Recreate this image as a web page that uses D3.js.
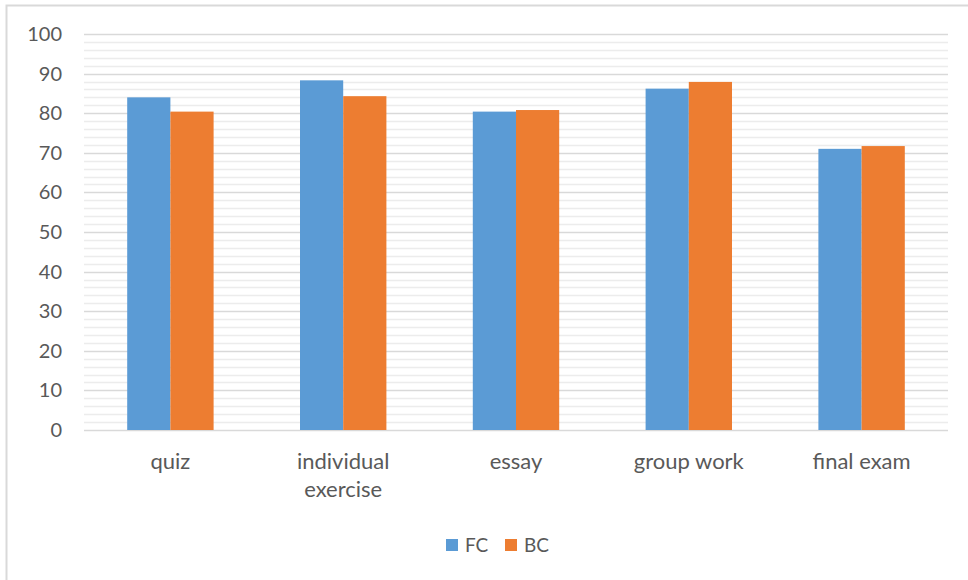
<!DOCTYPE html>
<html>
<head>
<meta charset="utf-8">
<script src="https://cdn.jsdelivr.net/npm/d3@7"></script>
<style>
  html, body { margin: 0; padding: 0; background: #fff; }
  svg text { font-family: Lato, "Open Sans", sans-serif; fill: #595959; }
</style>
</head>
<body>
<svg id="chart" width="968" height="580"></svg>
<script>
const categories = [["quiz"], ["individual", "exercise"], ["essay"], ["group work"], ["final exam"]];
const seriesNames = ["FC", "BC"];
const fcValues = [84.0, 88.3, 80.4, 86.2, 71.0];
const bcValues = [80.4, 84.3, 80.8, 87.9, 71.7];
const yTicks = [0, 10, 20, 30, 40, 50, 60, 70, 80, 90, 100];
const minorTicks = d3.range(0, 101, 2);

const colors = { FC: '#5B9BD5', BC: '#ED7D31' };
const plot = { left: 84, right: 948, top: 34, bottom: 430 };

const svg = d3.select('#chart');

// chart frame
svg.append('rect')
  .attr('x', 6.5).attr('y', 5.5)
  .attr('width', 970).attr('height', 580)
  .attr('fill', 'none')
  .attr('stroke', '#d9d9d9')
  .attr('stroke-width', 2);

const x = d3.scaleBand()
  .domain(categories.map(c => c.join(' ')))
  .range([plot.left, plot.right])
  .paddingInner(0.5).paddingOuter(0.25);

const xSub = d3.scaleBand()
  .domain(seriesNames)
  .range([0, x.bandwidth()]);

const y = d3.scaleLinear().domain([0, 100]).range([plot.bottom, plot.top]);

// minor gridlines
svg.append('g')
  .selectAll('line')
  .data(minorTicks.filter(d => d % 10 !== 0))
  .join('line')
    .attr('x1', plot.left).attr('x2', plot.right)
    .attr('y1', d => Math.round(y(d)) + 0.5)
    .attr('y2', d => Math.round(y(d)) + 0.5)
    .attr('stroke', '#ececec')
    .attr('stroke-width', 1.5);

// major gridlines
svg.append('g')
  .selectAll('line')
  .data(yTicks)
  .join('line')
    .attr('x1', plot.left).attr('x2', plot.right)
    .attr('y1', d => Math.round(y(d)) + 0.5)
    .attr('y2', d => Math.round(y(d)) + 0.5)
    .attr('stroke', '#d9d9d9')
    .attr('stroke-width', 1.5);

// y labels
svg.append('g')
  .selectAll('text')
  .data(yTicks)
  .join('text')
    .text(d => d)
    .attr('x', 62)
    .attr('y', d => y(d))
    .attr('dy', '0.35em')
    .attr('text-anchor', 'end')
    .attr('font-size', 20);

// bars
const rows = categories.map((c, i) => ({ key: c.join(' '), FC: fcValues[i], BC: bcValues[i] }));

svg.append('g')
  .selectAll('g')
  .data(rows)
  .join('g')
    .attr('transform', d => `translate(${x(d.key)} 0)`)
  .selectAll('rect')
  .data(d => seriesNames.map(s => ({ s, v: d[s] })))
  .join('rect')
    .attr('x', d => xSub(d.s))
    .attr('width', xSub.bandwidth())
    .attr('y', d => y(d.v))
    .attr('height', d => y(0) - y(d.v))
    .attr('fill', d => colors[d.s]);

// x labels
svg.append('g')
  .selectAll('text')
  .data(categories)
  .join('text')
    .attr('x', c => x(c.join(' ')) + x.bandwidth() / 2)
    .attr('y', 469)
    .attr('text-anchor', 'middle')
    .attr('font-size', 22)
  .selectAll('tspan')
  .data(c => c)
  .join('tspan')
    .attr('x', function() { return d3.select(this.parentNode).attr('x'); })
    .attr('dy', (d, i) => i === 0 ? 0 : 28)
    .text(d => d);

// legend
const legend = svg.append('g');
const legendPos = [446, 505];
seriesNames.forEach((s, i) => {
  legend.append('rect')
    .attr('x', legendPos[i]).attr('y', 539)
    .attr('width', 12).attr('height', 12)
    .attr('fill', colors[s]);
  legend.append('text')
    .attr('x', legendPos[i] + 19).attr('y', 545)
    .attr('dy', '0.35em')
    .attr('font-size', 19)
    .text(s);
});
</script>
</body>
</html>
